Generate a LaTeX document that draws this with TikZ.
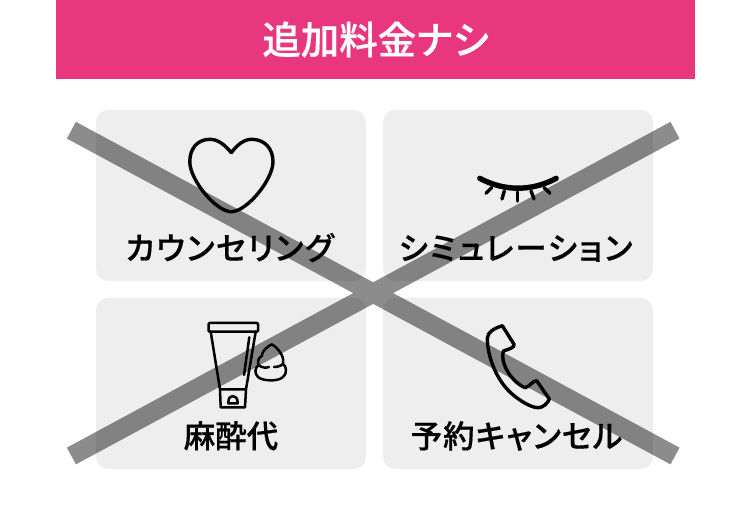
\documentclass[tikz,border=0pt]{standalone}
\usepackage{fontspec}
\setmainfont{Noto Sans CJK JP}[BoldFont={Noto Sans CJK JP Medium}, BoldFeatures={FakeBold=0.5, RawFeature=+palt}]
\usetikzlibrary{positioning}
\definecolor{bandpink}{HTML}{E8377E}
\definecolor{cardgray}{HTML}{EEEEEE}
\newcommand{\kanaspace}[1]{\addfontfeature{LetterSpace=#1}}

\begin{document}
\begin{tikzpicture}[x=1pt, y=-1pt,
    card/.style={fill=cardgray, rounded corners=12pt, minimum width=270pt, minimum height=171pt, inner sep=0pt, outer sep=0pt},
    cardtext/.style={inner sep=0pt, text height=24pt, text depth=5pt, font=\fontsize{31.5}{32}\selectfont\bfseries},
    icon/.style={draw=black, line width=3.4pt, line join=round, line cap=round},
    thinicon/.style={draw=black, line width=2.5pt, line join=round, line cap=round}]
    \useasboundingbox (0,0) rectangle (750,526);
    \node[fill=bandpink, minimum width=639pt, minimum height=79pt, inner sep=0pt, outer sep=0pt, text=white] (band) at (375.5,39.5) {\fontsize{38.5}{38.5}\selectfont\bfseries 追加料金ナシ};

    \node[card] (counsel) at (231,195.5) {};
    \node[card] (simul) [right = 17pt of counsel] {};
    \node[card] (cream) [below = 17pt of counsel] {};
    \node[card] (phone) [right = 17pt of cream] {};

    % the big cross
    \coordinate (xa) at (71.4,130.2);
    \coordinate (xb) at (675,456);
    \coordinate (xc) at (71.4,456);
    \coordinate (xd) at (675,130.2);
    \draw[black, opacity=0.45, line width=19pt] (xa) -- (xb) (xc) -- (xd);

    \node[cardtext] (counseltext) [above = 16pt of counsel.south, xshift=-1.5pt] {\kanaspace{5.4}カウンセリング};
    \node[cardtext] (simultext) [above = 16pt of simul.south, xshift=-2.5pt] {\kanaspace{6.3}シミュレーション};
    \node[cardtext] (creamtext) [above = 16pt of cream.south] {麻酔代};
    \node[cardtext] (phonetext) [above = 16pt of phone.south, xshift=-1.5pt] {\kanaspace{3.2}予約キャンセル};

    % heart
    \draw[icon, line join=miter] (231.3,152.7) .. controls (225,145) and (218,139.3) .. (210,139.3)
        .. controls (197,139.3) and (189.8,149) .. (189.8,161.7)
        .. controls (189.8,180) and (216,211.7) .. (231.3,211.7)
        .. controls (246.6,211.7) and (273,180) .. (273,161.7)
        .. controls (273,149) and (265,139.3) .. (251.7,139.3)
        .. controls (244,139.3) and (237,145) .. (231.3,152.7);

    % closed eye
    \draw[icon, line width=5.4pt] (479.8,178.3) .. controls (504,191.5) and (532,191.5) .. (556.2,178.3);
    \draw[icon] (491.7,187.5) -- (486,193.3);
    \draw[icon] (504.3,191) -- (502,199);
    \draw[icon] (517.7,192) -- (517.7,201);
    \draw[icon] (531,191) -- (534,199);
    \draw[icon] (544,187.5) -- (550,193.3);

    % tube
    \draw[thinicon, rounded corners=1pt] (208.6,323) rectangle (258,331.7);
    \draw[thinicon] (210.7,331.7) -- (220,389.3) -- (246,389.3) -- (255.7,331.7);
    \draw[thinicon] (249.3,337.3) -- (244,375);
    \draw[thinicon] (220,389.3) -- (220.7,407.3) -- (245,407.3) -- (246,389.3);
    \draw[thinicon] (228.3,403.3) .. controls (228.3,398) and (230,396) .. (232.7,396)
        .. controls (235.5,396) and (237.7,398) .. (237.7,403.3) -- cycle;

    % foam
    \draw[thinicon] (271.7,344.3) .. controls (267,347) and (262,351) .. (261.7,356)
        .. controls (258,358) and (257.5,362) .. (258.5,365)
        .. controls (255,368) and (254,373) .. (258,377)
        .. controls (262,381) and (278,382) .. (283,377)
        .. controls (288,372) and (286,366) .. (283,364)
        .. controls (284,359) and (282,355) .. (280.5,353)
        .. controls (278,349) and (275,346) .. (271.7,344.3);
    \draw[thinicon] (258.5,365) .. controls (262,368) and (266,368) .. (269,367);
    \draw[thinicon] (274,367) .. controls (277,367) and (281,366) .. (283,364);

    % telephone
    \draw[icon] (502.3,325.7) -- (514,344.3) .. controls (515,347) and (510,349) .. (503.3,351)
        .. controls (500,362) and (510,381) .. (525,387.7)
        .. controls (530,387) and (532,380.7) .. (536.7,380.7)
        -- (549.3,399) .. controls (548,403) and (543,407.7) .. (538.3,407.7)
        .. controls (530,407.7) and (518,399) .. (513.3,395)
        .. controls (498,383) and (487.3,358) .. (487.3,338.3)
        .. controls (487.3,332) and (495,328) .. (502.3,325.7) -- cycle;
\end{tikzpicture}
\end{document}
